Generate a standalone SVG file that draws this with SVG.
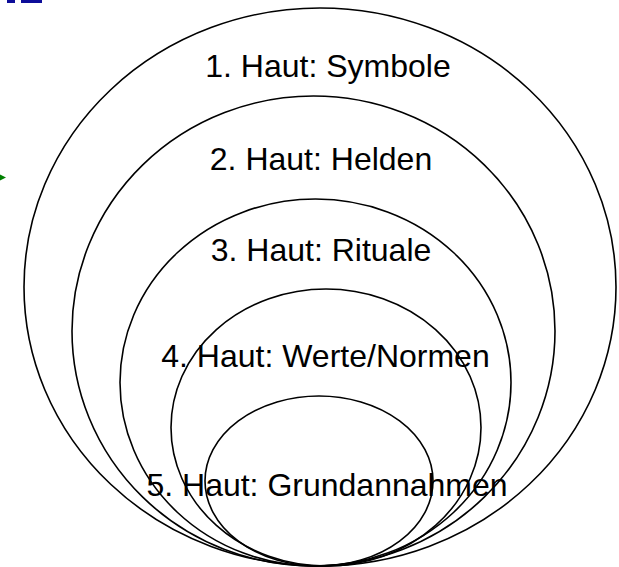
<svg xmlns="http://www.w3.org/2000/svg" width="619" height="567" viewBox="0 0 619 567">
<style>
.ring{fill:none;stroke:#000;stroke-width:1.6}
.lbl{font-family:"Liberation Sans",Arial,sans-serif;font-size:32px;fill:#000;text-anchor:middle}
</style>
<rect width="619" height="567" fill="#fff"/>
<g id="fragments">
<rect x="7" y="0" width="8" height="3" fill="#0d0d99"/>
<rect x="21" y="0" width="21" height="3" fill="#0d0d99"/>
<polygon points="-5,172 6,177.5 -5,183" fill="#008000"/>
</g>
<g id="connectors"></g>
<g id="layer1"><ellipse class="ring" cx="320" cy="287" rx="296" ry="279"/><text class="lbl" x="328" y="77">1. Haut: Symbole</text></g>
<g id="layer2"><ellipse class="ring" cx="313.5" cy="331" rx="241.5" ry="235"/><text class="lbl" x="321" y="170">2. Haut: Helden</text></g>
<g id="layer3"><ellipse class="ring" cx="315.5" cy="382.5" rx="195.5" ry="183.5"/><text class="lbl" x="321" y="261">3. Haut: Rituale</text></g>
<g id="layer4"><ellipse class="ring" cx="326" cy="427.5" rx="155" ry="138.5"/><text class="lbl" x="325.5" y="367">4. Haut: Werte/Normen</text></g>
<g id="layer5"><ellipse class="ring" cx="319" cy="481" rx="114" ry="85"/><text class="lbl" x="327" y="496">5. Haut: Grundannahmen</text></g>
</svg>
